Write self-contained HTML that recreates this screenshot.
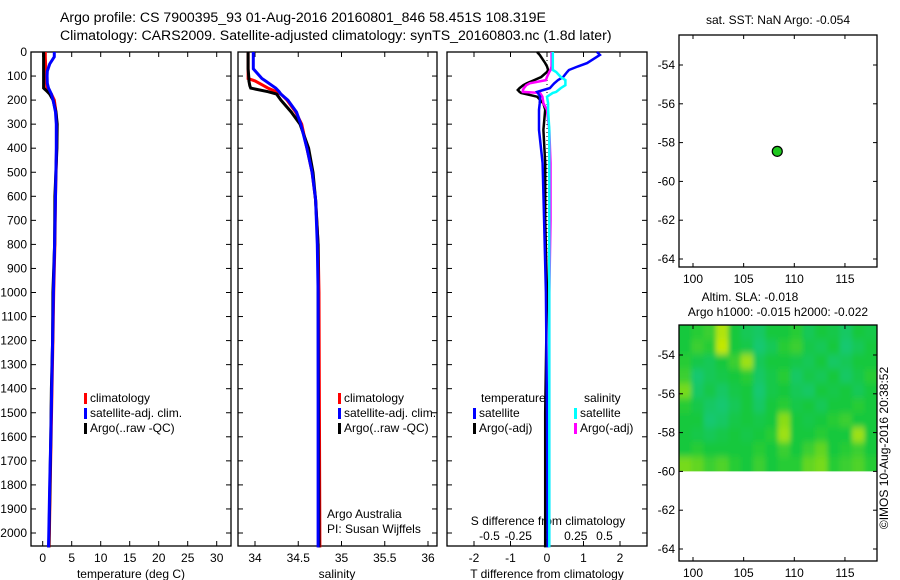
<!DOCTYPE html>
<html><head><meta charset="utf-8"><style>
html,body{margin:0;padding:0;background:#fff;}
svg{display:block;font-family:"Liberation Sans",sans-serif;}
text{font-size:12px;fill:#000;}
</style></head><body>
<svg id="fig" width="900" height="580" viewBox="0 0 900 580" xmlns="http://www.w3.org/2000/svg">
<text x="60" y="22" style="font-size:14.1px">Argo profile: CS 7900395_93 01-Aug-2016 20160801_846 58.451S 108.319E</text>
<text x="60" y="40" style="font-size:14.1px">Climatology: CARS2009. Satellite-adjusted climatology: synTS_20160803.nc (1.8d later)</text>
<g id="g"></g>
</svg>
<script>
// depth axis
const depthTicks=[0,100,200,300,400,500,600,700,800,900,1000,1100,1200,1300,1400,1500,1600,1700,1800,1900,2000];
// temperature profiles
const tDepth=[0,20,50,80,100,130,150,160,175,200,250,300,400,600,800,1000,1200,1400,1600,1800,2000,2060];
const tClim=[0.45,0.45,0.5,0.55,0.6,0.65,0.7,1.0,1.5,2.0,2.3,2.4,2.4,2.2,2.1,1.9,1.75,1.6,1.45,1.3,1.15,1.1];
const tSat=[2.0,2.0,1.2,0.8,0.75,0.8,1.0,1.2,1.5,1.8,2.2,2.35,2.35,2.2,2.05,1.85,1.7,1.55,1.4,1.2,1.05,1.0];
const tArgo=[0.15,0.15,0.15,0.15,0.15,0.15,0.15,0.6,1.2,1.8,2.3,2.5,2.45,2.1,2.05,1.75,1.7,1.5,1.4,1.25,1.1,1.05];
const tTicks=[0,5,10,15,20,25,30];
// salinity profiles
const sDepth=[0,70,110,120,140,150,165,175,200,250,300,400,500,615,800,1000,2060];
const sClim=[33.92,33.92,33.92,34.0,34.1,34.15,34.25,34.3,34.37,34.47,34.54,34.6,34.66,34.7,34.73,34.74,34.75];
const sSat=[33.98,33.98,34.08,34.12,34.2,34.24,34.28,34.3,34.38,34.48,34.53,34.6,34.66,34.7,34.72,34.73,34.73];
const sArgo=[33.92,33.92,33.93,33.93,33.94,33.95,34.15,34.25,34.3,34.42,34.52,34.62,34.67,34.7,34.73,34.73,34.74];
const sTicks=[34,34.5,35,35.5,36];
// differences
const dDepth=[0,12,46,60,75,83,104,117,130,138,150,158,166,170,186,214,240,324,462,700,1000,1500,2060];
const dTsat=[1.37,1.45,1.1,0.85,0.6,0.55,0.44,0.3,0.2,0.15,0.08,-0.1,-0.27,-0.25,-0.19,-0.2,-0.22,-0.22,-0.12,-0.08,-0.03,0.0,0.02];
const dTargo=[-0.27,-0.2,-0.05,0.0,0.03,0.0,-0.16,-0.35,-0.55,-0.65,-0.75,-0.8,-0.75,-0.71,-0.27,-0.1,-0.05,-0.1,-0.05,-0.05,0.0,-0.05,-0.05];
const dSsat=[0.05,0.05,0.05,0.05,0.05,0.08,0.12,0.16,0.16,0.16,0.12,0.1,0.08,0.05,0.0,0.01,0.01,0.02,0.02,0.02,0.02,0.02,0.02];
const dSargo=[0.04,0.04,0.04,0.04,0.03,0.02,0.0,-0.01,-0.15,-0.18,-0.2,-0.21,-0.21,-0.06,-0.04,-0.03,0.0,0.02,0.03,0.03,0.02,0.02,0.02];
const dTTicks=[-2,-1,0,1,2];
const dSTicks=[-0.5,-0.25,0,0.25,0.5];
const dSTickLabels=["-0.5","-0.25","0","0.25","0.5"];
// maps
const lonTicks=[100,105,110,115];
const latTicks=[-54,-56,-58,-60,-62,-64];
const argoLon=108.319, argoLat=-58.451;
const slaGrid=[
[.5,.55,.6,.9,.5,.4,.35,.5,.5,.55,.4,.5,.45,.35,.5,.45],
[.5,.6,.55,.95,.5,.45,.3,.4,.55,.6,.45,.4,.5,.3,.4,.5],
[.55,.45,.4,.5,.6,.85,.4,.5,.5,.45,.4,.5,.35,.4,.5,.5],
[.6,.3,.4,.45,.5,.55,.35,.45,.55,.35,.45,.4,.5,.35,.45,.55],
[.75,.35,.45,.35,.45,.5,.3,.45,.5,.4,.35,.5,.45,.5,.4,.5],
[.55,.45,.35,.3,.4,.5,.35,.5,.55,.45,.5,.4,.5,.5,.55,.5],
[.5,.5,.3,.35,.45,.5,.45,.5,.8,.5,.45,.5,.55,.6,.5,.5],
[.5,.45,.4,.45,.5,.45,.5,.55,.85,.5,.5,.55,.5,.5,.85,.5],
[.5,.55,.5,.5,.5,.5,.55,.5,.6,.5,.6,.7,.5,.55,.6,.5],
[.75,.7,.6,.65,.55,.5,.6,.5,.55,.55,.7,.75,.55,.6,.65,.55]];

const NS="http://www.w3.org/2000/svg";
const G=document.getElementById('g');
function mk(tag,at,parent){const e=document.createElementNS(NS,tag);for(const k in at)e.setAttribute(k,at[k]);(parent||G).appendChild(e);return e;}
function txt(x,y,s,anchor,parent){const t=mk('text',{x:x,y:y,'text-anchor':anchor||'start'},parent);t.textContent=s;return t;}
const Y=d=>52+d*0.2405;
const BOT=546;
function box(x0,x1,y0,y1,name){const r=mk('rect',{x:x0,y:y0,width:x1-x0,height:y1-y0,fill:'none',stroke:'#000','stroke-width':1.3});

}
function depthAxis(x0,x1,labels){depthTicks.forEach(d=>{const y=Y(d);mk('line',{x1:x0,x2:x0+5,y1:y,y2:y,stroke:'#000'});mk('line',{x1:x1-5,x2:x1,y1:y,y2:y,stroke:'#000'});
if(labels){const t=txt(x0-4,y+4,String(d),'end');}});}
function xTicks(x0x,vals,fx,labels,ly){vals.forEach((v,i)=>{const x=fx(v);mk('line',{x1:x,x2:x,y1:52,y2:57,stroke:'#000'});mk('line',{x1:x,x2:x,y1:BOT-5,y2:BOT,stroke:'#000'});
if(labels){const t=txt(x,ly,labels[i],'middle');}});}
function prof(depths,vals,fx,color,name,w){const pts=depths.map((d,i)=>fx(vals[i]).toFixed(1)+','+Y(d).toFixed(1)).join(' ');
const p=mk('polyline',{points:pts,fill:'none',stroke:color,'stroke-width':w||3,'stroke-linejoin':'miter'});

}
function legend(x,y,color,label){mk('rect',{x:x,y:y-9,width:3,height:11,fill:color});const t=txt(x+6,y,label);

}

// Panel 1 temperature
const fT=v=>42.7+v*5.8;
box(31,231,52,BOT,'temperature-panel');
depthAxis(31,231,true);
xTicks(0,tTicks,fT,tTicks.map(String),562);
prof(tDepth,tClim,fT,'#f00','temp-climatology-line');
prof(tDepth,tArgo,fT,'#000','temp-argo-line');
prof(tDepth,tSat,fT,'#00f','temp-satellite-line');
legend(84,402,'#f00','climatology');legend(84,417,'#00f','satellite-adj. clim.');legend(84,432,'#000','Argo(..raw -QC)');
{const t=txt(131,578,'temperature (deg C)','middle');}

// Panel 2 salinity
const fS=v=>255+(v-34)*86.5;
box(238,437,52,BOT,'salinity-panel');
depthAxis(238,437,false);
xTicks(0,sTicks,fS,sTicks.map(String),562);
prof(sDepth,sClim,fS,'#f00','sal-climatology-line');
prof(sDepth,sArgo,fS,'#000','sal-argo-line');
prof(sDepth,sSat,fS,'#00f','sal-satellite-line');
legend(338,402,'#f00','climatology');legend(338,417,'#00f','satellite-adj. clim.');legend(338,432,'#000','Argo(..raw -QC)');
txt(327,518,'Argo Australia');txt(327,533,'PI: Susan Wijffels');
{const t=txt(337,578,'salinity','middle');}

// Panel 3 differences
const fDT=v=>547+v*36.5, fDS=v=>547+v*115;
box(447,647,52,BOT,'difference-panel');
depthAxis(447,647,false);
xTicks(0,dTTicks,fDT,dTTicks.map(String),562);
mk('line',{x1:547,x2:547,y1:52,y2:BOT,stroke:'#000','stroke-dasharray':'1,3'});
dSTicks.forEach((v,i)=>{const t=txt(fDS(v),540,dSTickLabels[i],'middle');});
txt(548,525,'S difference from climatology','middle');
prof(dDepth,dTargo,fDT,'#000','tdiff-argo-line',2.5);
prof(dDepth,dSargo,fDS,'#f0f','sdiff-argo-line',2.5);
prof(dDepth,dTsat,fDT,'#00f','tdiff-satellite-line',2.5);
prof(dDepth,dSsat,fDS,'#0ff','sdiff-satellite-line',2.5);
txt(481,402,'temperature');txt(584,402,'salinity');
legend(473,417,'#00f','satellite');legend(473,432,'#000','Argo(-adj)');
legend(574,417,'#0ff','satellite');legend(574,432,'#f0f','Argo(-adj)');
{const t=txt(547,578,'T difference from climatology','middle');}

// Maps
const fLon=v=>693+(v-100)*10.13;
function mapAxes(top,bot,lat0y,name){
 const fLat=v=>lat0y+(-54-v)*19.4;
 box(679,877,top,bot,name);
 lonTicks.forEach(v=>{const x=fLon(v);mk('line',{x1:x,x2:x,y1:top,y2:top+4,stroke:'#000'});mk('line',{x1:x,x2:x,y1:bot-4,y2:bot,stroke:'#000'});
  const t=txt(x,bot+16,String(v),'middle');});
 latTicks.forEach(v=>{const y=fLat(v);if(y>bot)return;mk('line',{x1:679,x2:683,y1:y,y2:y,stroke:'#000'});mk('line',{x1:873,x2:877,y1:y,y2:y,stroke:'#000'});
  const t=txt(675,y+4,String(v),'end');});
 return fLat;}
{
 const fLat2=v=>355+(-54-v)*19.4;
 const latTop=-52.45, latBot=-60, lonL=98.6, lonR=118.15;
 const rows=slaGrid.length, cols=slaGrid[0].length;
 const defs=mk('defs',{});
 const cp=mk('clipPath',{id:'hc'},defs);mk('rect',{x:679,y:fLat2(latTop),width:198,height:fLat2(latBot)-fLat2(latTop)},cp);
 const f=mk('filter',{id:'bl',x:'-10%',y:'-10%',width:'120%',height:'120%'},defs);mk('feGaussianBlur',{stdDeviation:'2.5 3.5'},f);
 const hg=mk('g',{'clip-path':'url(#hc)'});
 
 
 const inner=mk('g',{filter:'url(#bl)'},hg);
 const col=v=>{const a=[32,200,190],b=[20,200,60],c=[215,235,0];let p,q,t;if(v<0.5){p=a;q=b;t=v/0.5;}else{p=b;q=c;t=(v-0.5)/0.5;}return 'rgb('+p.map((z,i)=>Math.round(z+(q[i]-z)*t)).join(',')+')';};
 const dLat=(latTop-latBot)/rows, dLon=(lonR-lonL)/cols;
 for(let r=-1;r<=rows;r++)for(let c=-1;c<=cols;c++){
  const rr=Math.min(rows-1,Math.max(0,r)), cc=Math.min(cols-1,Math.max(0,c));
  const x=fLon(lonL+c*dLon), y=fLat2(latTop-r*dLat);
  const cell=mk('rect',{x:x,y:y,width:fLon(lonL+(c+1)*dLon)-x+0.5,height:fLat2(latTop-(r+1)*dLat)-y+0.5,fill:col(slaGrid[rr][cc])},inner);
  
  
 }
}
const fLat1=mapAxes(35,267,65,'sst-map');
mapAxes(325,561,355,'sla-map');
{const c=mk('circle',{cx:fLon(argoLon),cy:fLat1(argoLat),r:5,fill:'#1fc81f',stroke:'#000','stroke-width':1.2});

}
txt(778,24,'sat. SST: NaN Argo: -0.054','middle');
txt(750,301,'Altim. SLA: -0.018','middle');
txt(778,316,'Argo h1000: -0.015 h2000: -0.022','middle');
{const t=txt(0,0,'©IMOS 10-Aug-2016 20:38:52','middle');t.setAttribute('transform','translate(888,448) rotate(-90)');

}
</script>
</body></html>
